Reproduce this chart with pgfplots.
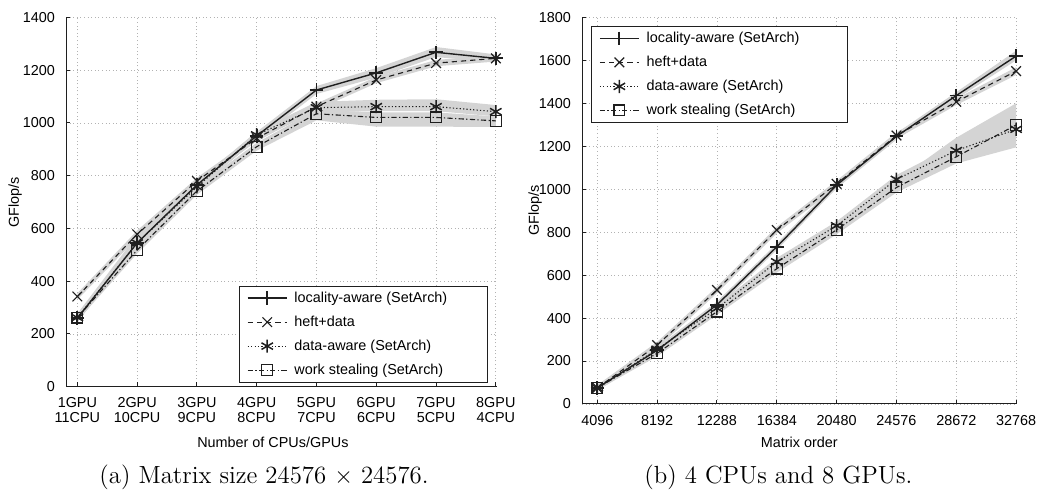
\documentclass[border=0pt]{standalone}
\usepackage{fontspec}
\usepackage{pgfplots}
\pgfplotsset{compat=1.18}
\newfontfamily\arial{Liberation Sans}
\newcommand\pf{\arial\fontsize{7.2}{7.5}\selectfont}
\definecolor{band}{gray}{0.83}
\definecolor{gridc}{gray}{0.70}
\definecolor{ln}{gray}{0.12}
\pgfplotsset{
  cs/.style={
    scale only axis, clip=false,
    axis lines*=left, axis line style={ln, line width=0.5pt},
    tick align=inside, major tick length=2.2pt, tick style={ln, line width=0.5pt},
    grid=major, grid style={gridc, line width=0.45pt, dash pattern=on 0.5pt off 1.3pt},
    tick label style={font=\pf}, label style={font=\pf},
    /pgf/number format/assume math mode=true,
    /pgf/number format/1000 sep={},
    scaled x ticks=false, scaled y ticks=false,
    xticklabel style={align=center, yshift=-2pt},
    yticklabel style={xshift=-2pt},
    legend cell align=left,
    legend style={draw=ln, line width=0.5pt, fill=white, font=\pf,
      inner xsep=4pt, inner ysep=2.5pt, row sep=5pt,
      nodes={inner xsep=3.5pt, inner ysep=0pt, text height=5.5pt, text depth=1.5pt}},
    legend image code/.code={\draw[mark repeat=2,mark phase=2] plot coordinates {(0pt,0pt) (9.75pt,0pt) (19.5pt,0pt)};},
  },
  loc/.style={ln, line width=0.7pt, solid, mark=+, mark size=3.4pt, mark options={solid, line width=0.9pt}},
  heft/.style={ln, line width=0.55pt, dash pattern=on 2.6pt off 2pt, mark=x, mark size=3.4pt, mark options={solid, line width=0.6pt}},
  da/.style={ln, line width=0.55pt, dash pattern=on 0.6pt off 1.1pt, mark=asterisk, mark size=3.3pt, mark options={solid, line width=0.75pt}},
  ws/.style={ln, line width=0.55pt, dash pattern=on 2.6pt off 1.2pt on 0.6pt off 1.2pt, mark=square, mark size=2.7pt, mark options={solid, line width=0.6pt}},
  bnd/.style={fill=band, draw=none, forget plot},
}
\begin{document}
\begin{tikzpicture}
\useasboundingbox (0,0) rectangle (520pt,246pt);
% ---------------- left panel ----------------
\begin{axis}[cs,
  at={(33pt,52.65pt)}, anchor=south west, width=215.5pt, height=184.6pt,
  xmin=-0.19, xmax=7.02, ymin=0, ymax=1400,
  xtick={0,...,7},
  xticklabels={{1GPU\\11CPU},{2GPU\\10CPU},{3GPU\\9CPU},{4GPU\\8CPU},{5GPU\\7CPU},{6GPU\\6CPU},{7GPU\\5CPU},{8GPU\\4CPU}},
  ytick={0,200,...,1400},
  xlabel={Number of CPUs/GPUs}, ylabel={GFlop/s},
  xlabel style={at={(axis description cs:0.48,-0.15)}, anchor=center},
  ylabel style={at={(axis description cs:-0.118,0.5)}, anchor=center},
  legend style={at={(0.979,0.011)}, anchor=south east},
]
\addplot[bnd] coordinates {(0,275)(1,560)(2,780)(3,966)(4,1140)(5,1208)(6,1288)(7,1260)(7,1230)(6,1250)(5,1172)(4,1110)(3,936)(2,750)(1,530)(0,245)};
\addplot[bnd] coordinates {(0,354)(1,592)(2,792)(3,954)(4,1074)(5,1175)(6,1239)(7,1257)(7,1233)(6,1215)(5,1151)(4,1050)(3,930)(2,768)(1,564)(0,330)};
\addplot[bnd] coordinates {(0,277)(1,575)(2,775)(3,968)(4,1080)(5,1088)(6,1090)(7,1068)(7,1025)(6,1045)(5,1045)(4,1040)(3,940)(2,745)(1,525)(0,250)};
\addplot[bnd] coordinates {(0,275)(1,535)(2,757)(3,925)(4,1050)(5,1040)(6,1040)(7,1025)(7,985)(6,986)(5,986)(4,1010)(3,895)(2,728)(1,505)(0,250)};
\addplot[loc] coordinates {(0,260)(1,545)(2,765)(3,951)(4,1125)(5,1190)(6,1268)(7,1245)};
\addlegendentry{\makebox[89pt][l]{locality-aware (SetArch)}}
\addplot[heft] coordinates {(0,342)(1,578)(2,780)(3,942)(4,1062)(5,1163)(6,1227)(7,1245)};
\addlegendentry{heft+data}
\addplot[da] coordinates {(0,262)(1,545)(2,758)(3,955)(4,1058)(5,1062)(6,1062)(7,1043)};
\addlegendentry{data-aware (SetArch)}
\addplot[ws] coordinates {(0,262)(1,518)(2,742)(3,910)(4,1035)(5,1021)(6,1021)(7,1008)};
\addlegendentry{work stealing (SetArch)}
\end{axis}
% ---------------- right panel ----------------
\begin{axis}[cs,
  at={(291pt,44pt)}, anchor=south west, width=217.3pt, height=193.3pt,
  xmin=3048, xmax=32800, ymin=0, ymax=1800,
  xtick={4096,8192,12288,16384,20480,24576,28672,32768},
  xticklabels={4096,8192,12288,16384,20480,24576,28672,32768},
  ytick={0,200,...,1800},
  xlabel={Matrix order}, ylabel={GFlop/s},
  xlabel style={at={(axis description cs:0.5,-0.098)}, anchor=center},
  ylabel style={at={(axis description cs:-0.108,0.5)}, anchor=center},
  legend style={at={(0.02,0.978)}, anchor=north west},
]
\addplot[bnd] coordinates {(4096,88)(8192,265)(12288,477)(16384,747)(20480,1034)(24576,1261)(28672,1452)(32768,1645)(32768,1600)(28672,1420)(24576,1231)(20480,1004)(16384,717)(12288,447)(8192,235)(4096,62)};
\addplot[bnd] coordinates {(4096,88)(8192,289)(12288,546)(16384,825)(20480,1040)(24576,1265)(28672,1422)(32768,1568)(32768,1532)(28672,1392)(24576,1235)(20480,1010)(16384,795)(12288,516)(8192,259)(4096,62)};
\addplot[bnd] coordinates {(4096,85)(8192,268)(12288,460)(16384,680)(20480,850)(24576,1066)(28672,1210)(32768,1320)(32768,1240)(28672,1150)(24576,1025)(20480,810)(16384,648)(12288,432)(8192,242)(4096,65)};
\addplot[bnd] coordinates {(4096,85)(8192,250)(12288,445)(16384,645)(20480,835)(24576,1040)(28672,1240)(32768,1400)(32768,1195)(28672,1120)(24576,985)(20480,790)(16384,612)(12288,415)(8192,222)(4096,65)};
\addplot[loc] coordinates {(4096,75)(8192,250)(12288,462)(16384,732)(20480,1019)(24576,1246)(28672,1436)(32768,1620)};
\addlegendentry{\makebox[93pt][l]{locality-aware (SetArch)}}
\addplot[heft] coordinates {(4096,75)(8192,274)(12288,531)(16384,810)(20480,1025)(24576,1250)(28672,1407)(32768,1550)};
\addlegendentry{heft+data}
\addplot[da] coordinates {(4096,75)(8192,255)(12288,445)(16384,662)(20480,830)(24576,1046)(28672,1180)(32768,1279)};
\addlegendentry{data-aware (SetArch)}
\addplot[ws] coordinates {(4096,75)(8192,236)(12288,430)(16384,630)(20480,811)(24576,1008)(28672,1151)(32768,1299)};
\addlegendentry{work stealing (SetArch)}
\end{axis}
% captions
\node[font=\fontsize{12.4}{14}\selectfont, anchor=base] at (132pt,4.3pt) {(a) Matrix size 24576 $\times$ 24576.};
\node[font=\fontsize{12.4}{14}\selectfont, anchor=base] at (389.2pt,4.3pt) {(b) 4 CPUs and 8 GPUs.};
\end{tikzpicture}
\end{document}
